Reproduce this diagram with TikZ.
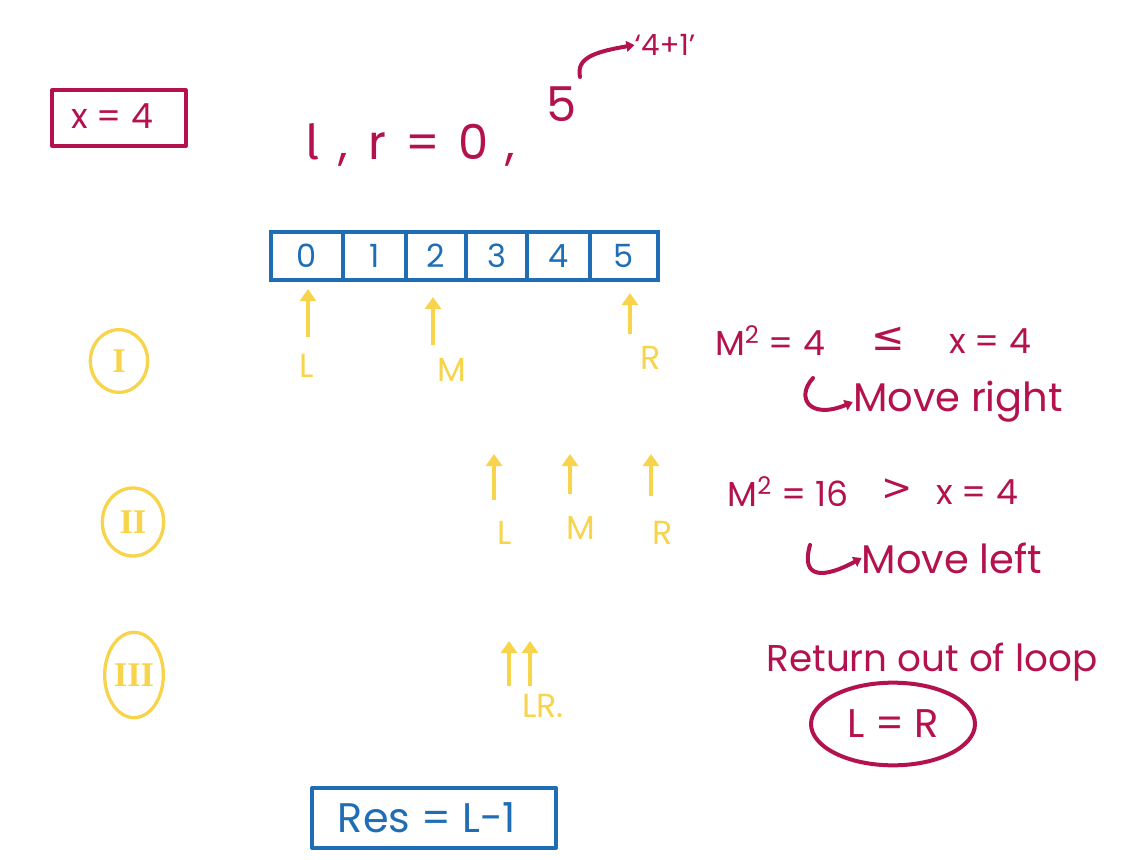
\documentclass[tikz,border=0pt]{standalone}
\usepackage{fontspec}
\setmainfont{Poppins}
\newfontfamily\symfont{DejaVu Sans}
\newfontfamily\numfont{Liberation Serif}
\newfontfamily\fira{Fira Sans}
\usetikzlibrary{arrows.meta,shapes.geometric}
\definecolor{ink}{HTML}{B3124F}
\definecolor{pen}{HTML}{1F6EB5}
\definecolor{hl}{HTML}{F7D44C}
\tikzset{
  inkline/.style={draw=ink, line width=3pt, line cap=round, line join=round},
  inktext/.style={text=ink, inner sep=0pt, font=\fontsize{26}{30}\selectfont},
  penbox/.style={draw=pen, line width=3pt, line join=round},
  cellbox/.style={draw=pen, line width=3pt, minimum height=36pt, inner sep=0pt, text=pen, font=\fontsize{24}{28}\selectfont},
  ptr/.style={draw=hl, line width=3.5pt, -{Triangle[length=9pt,width=12pt]}},
  ptrlbl/.style={text=hl, inner sep=0pt, font=\fontsize{25}{28}\selectfont},
  stepmark/.style={draw=hl, line width=2.5pt, ellipse, inner sep=0pt, text=hl, font=\numfont\bfseries\fontsize{26}{28}\selectfont},
  hook/.style={draw=ink, line width=3pt, line cap=round, -{Triangle[length=6pt,width=8pt]}}
}
\begin{document}
\begin{tikzpicture}[x=0.75pt,y=-0.75pt]
\useasboundingbox (0,0) rectangle (1128,860);

% x = 4 box
\node[inkline, minimum width=100pt, minimum height=42pt, inner sep=0pt] (xbox) at (119,118) {};
\node[inktext, font=\fontsize{26}{30}\selectfont] (xval) at (112,116) {x = 4};

% l, r = 0, 5
\node[inktext, font=\fontsize{36}{40}\selectfont] (lr) at (410,145) {{\fira l}\hspace{14pt},\hspace{16pt}r\hspace{14pt}=\hspace{14pt}0\hspace{12pt},};
\node[inktext, font=\fontsize{36}{40}\selectfont] (five) at (562,104) {5};
\node[inktext, font=\fontsize{22}{26}\selectfont] (fourone) at (665,45) {‘4+1’};
\coordinate (hookstart) at (580,77);
\draw[hook] (hookstart) .. controls (576,58) and (594,52) .. (fourone.west);

% array
\node[cellbox, minimum width=54pt]    (c0) at (307,256) {0};
\node[cellbox, minimum width=47.25pt] (c1) at (374.5,256) {1};
\node[cellbox, minimum width=45pt]    (c2) at (436,256) {2};
\node[cellbox, minimum width=45.75pt] (c3) at (496.5,256) {3};
\node[cellbox, minimum width=47.25pt] (c4) at (558.5,256) {4};
\node[cellbox, minimum width=51pt]    (c5) at (624,256) {5};

% step markers
\node[stepmark, minimum width=43pt, minimum height=47pt] (s1) at (119,361) {I};
\node[stepmark, minimum width=46pt, minimum height=51pt] (s2) at (133,522) {II};
\node[stepmark, minimum width=44pt, minimum height=64pt] (s3) at (134,675) {III};

% step I pointers
\node[ptrlbl] (L1) at (307,366) {L};
\node[ptrlbl] (M1) at (452,370) {M};
\node[ptrlbl] (R1) at (651,358) {R};
\coordinate (tL1) at (308,289);
\coordinate (tM1) at (433,297);
\coordinate (tR1) at (630,293);
\coordinate (bL1) at (308,337);
\coordinate (bM1) at (433,345);
\coordinate (bR1) at (630,334);
\draw[ptr] (bL1) -- (tL1);
\draw[ptr] (bM1) -- (tM1);
\draw[ptr] (bR1) -- (tR1);

% step II pointers
\node[ptrlbl] (L2) at (505,533) {L};
\node[ptrlbl] (M2) at (581,528) {M};
\node[ptrlbl] (R2) at (663,533) {R};
\coordinate (tL2) at (494,454);
\coordinate (tM2) at (570,454);
\coordinate (tR2) at (651,454);
\coordinate (bL2) at (494,500);
\coordinate (bM2) at (570,494);
\coordinate (bR2) at (651,496);
\draw[ptr] (bL2) -- (tL2);
\draw[ptr] (bM2) -- (tM2);
\draw[ptr] (bR2) -- (tR2);

% step III pointers
\node[ptrlbl] (LR3) at (543,706) {LR.};
\coordinate (tL3) at (509,641);
\coordinate (tR3) at (530,641);
\coordinate (bL3) at (509,686);
\coordinate (bR3) at (530,686);
\draw[ptr] (bL3) -- (tL3);
\draw[ptr] (bR3) -- (tR3);

% step I reasoning
\node[inktext] (m1) at (770,341) {M\textsuperscript{2} = 4};
\node[inktext, font=\symfont\fontsize{30}{34}\selectfont] (le) at (888,339) {≤};
\node[inktext] (x1) at (990,341) {x = 4};
\node[inktext, font=\fontsize{30}{34}\selectfont] (mr) at (958,402) {Move right};
\coordinate (h1) at (813,378);
\draw[hook] (h1) .. controls (795,398) and (810,420) .. (mr.west);

% step II reasoning
\node[inktext] (m2) at (788,492) {M\textsuperscript{2} = 16};
\node[inktext, font=\symfont\fontsize{28}{32}\selectfont] (gt) at (897,490) {>};
\node[inktext] (x2) at (977,492) {x = 4};
\node[inktext, font=\fontsize{30}{34}\selectfont] (ml) at (952,558) {Move left};
\coordinate (h2) at (810,545);
\draw[hook] (h2) .. controls (800,580) and (825,578) .. (ml.west);

% step III
\node[inktext, font=\fontsize{28}{32}\selectfont] (ret) at (932,662) {Return out of loop};
\node[inkline, ellipse, minimum width=123pt, minimum height=62pt, inner sep=0pt, text=ink, font=\fontsize{30}{34}\selectfont] (eq) at (893,724) {L = R};

% result
\node[penbox, minimum width=183pt, minimum height=45pt, inner sep=0pt] (res) at (434,818) {};
\node[text=pen, inner sep=0pt, font=\fontsize{31}{34}\selectfont] (restext) at (427,818) {Res = L-1};
\end{tikzpicture}
\end{document}
